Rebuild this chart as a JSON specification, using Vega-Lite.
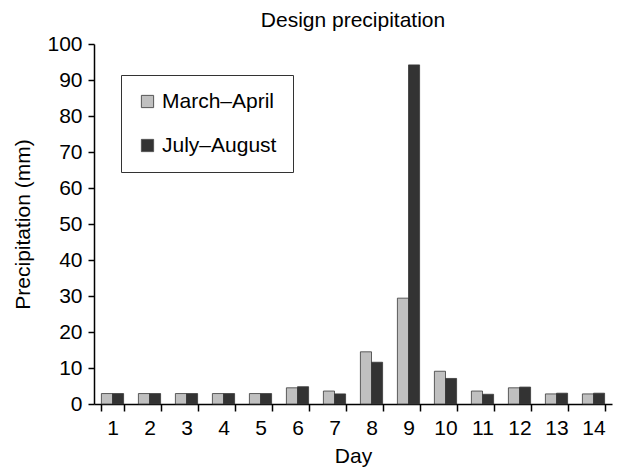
{
  "$schema": "https://vega.github.io/schema/vega-lite/v6.json",
  "autosize": {"type": "none"},
  "padding": {"left": 94, "top": 44, "right": 7, "bottom": 64},
  "width": 518,
  "height": 360,
  "background": "white",
  "title": {"text": "Design precipitation", "fontSize": 21, "font": "Liberation Sans", "fontWeight": "normal", "color": "black", "offset": 2, "anchor": "middle"},
  "config": {
    "font": "Liberation Sans",
    "view": {"stroke": null},
    "axis": {"grid": false, "domainColor": "black", "tickColor": "black", "labelColor": "black", "titleColor": "black", "domainWidth": 1.5, "tickWidth": 1.5, "labelFont": "Liberation Sans", "titleFont": "Liberation Sans", "labelFontSize": 21, "titleFontSize": 21, "titleFontWeight": "normal"}
  },
  "data": {
    "values": [
      {"day": 1, "season": "March–April", "value": 2.9},
      {"day": 1, "season": "July–August", "value": 2.9},
      {"day": 2, "season": "March–April", "value": 2.9},
      {"day": 2, "season": "July–August", "value": 2.9},
      {"day": 3, "season": "March–April", "value": 2.9},
      {"day": 3, "season": "July–August", "value": 2.9},
      {"day": 4, "season": "March–April", "value": 2.9},
      {"day": 4, "season": "July–August", "value": 2.9},
      {"day": 5, "season": "March–April", "value": 2.9},
      {"day": 5, "season": "July–August", "value": 2.9},
      {"day": 6, "season": "March–April", "value": 4.5},
      {"day": 6, "season": "July–August", "value": 4.8},
      {"day": 7, "season": "March–April", "value": 3.6},
      {"day": 7, "season": "July–August", "value": 2.8},
      {"day": 8, "season": "March–April", "value": 14.5},
      {"day": 8, "season": "July–August", "value": 11.6},
      {"day": 9, "season": "March–April", "value": 29.4},
      {"day": 9, "season": "July–August", "value": 94.2},
      {"day": 10, "season": "March–April", "value": 9.1},
      {"day": 10, "season": "July–August", "value": 7.1},
      {"day": 11, "season": "March–April", "value": 3.6},
      {"day": 11, "season": "July–August", "value": 2.7},
      {"day": 12, "season": "March–April", "value": 4.5},
      {"day": 12, "season": "July–August", "value": 4.7},
      {"day": 13, "season": "March–April", "value": 2.8},
      {"day": 13, "season": "July–August", "value": 3.0},
      {"day": 14, "season": "March–April", "value": 2.8},
      {"day": 14, "season": "July–August", "value": 3.0}
    ]
  },
  "mark": {"type": "bar", "stroke": "#3a3a3a", "strokeWidth": 1, "strokeOpacity": 0.8},
  "encoding": {
    "x": {
      "field": "day", "type": "ordinal", "title": "Day",
      "scale": {"paddingInner": 0.4, "paddingOuter": 0.2},
      "axis": {"labelAngle": 0, "tickBand": "extent", "tickSize": 7, "labelPadding": 6, "titlePadding": 7}
    },
    "xOffset": {"field": "season", "type": "nominal", "scale": {"domain": ["March–April", "July–August"], "paddingInner": 0}},
    "y": {
      "field": "value", "type": "quantitative", "title": "Precipitation (mm)",
      "scale": {"domain": [0, 100], "nice": false},
      "axis": {"values": [0, 10, 20, 30, 40, 50, 60, 70, 80, 90, 100], "tickSize": 6, "labelPadding": 6, "titlePadding": 13}
    },
    "color": {
      "field": "season", "type": "nominal",
      "scale": {"domain": ["March–April", "July–August"], "range": ["#c0c0c0", "#333333"]},
      "legend": {
        "title": null, "orient": "none", "legendX": 27, "legendY": 31,
        "direction": "vertical",
        "strokeColor": "#333333", "fillColor": "white", "padding": 16,
        "symbolType": "square", "symbolSize": 150, "symbolStrokeColor": "#555555", "symbolStrokeWidth": 1,
        "labelFontSize": 21, "labelFont": "Liberation Sans", "labelColor": "black",
        "rowPadding": 22, "labelOffset": 4, "offset": 0
      }
    }
  }
}
